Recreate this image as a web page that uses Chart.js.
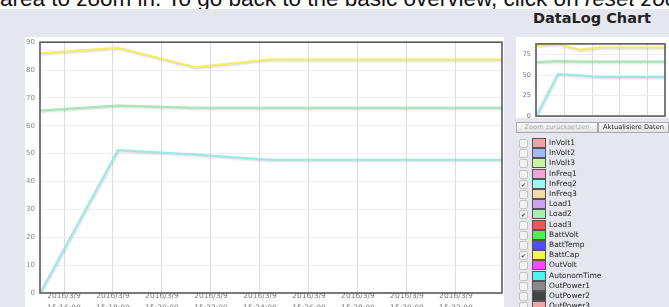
<!DOCTYPE html>
<html lang="de">
<head>
<meta charset="UTF-8">
<title>DataLog Chart</title>
<script src="https://cdn.jsdelivr.net/npm/chart.js"></script>
<style>
    body { margin: 0; width: 669px; height: 307px; overflow: hidden; background: #e6e6ee; position: relative; font-family: "DejaVu Sans", sans-serif; }
    #intro { position: absolute; left: 0; top: 0; width: 669px; height: 9px; background: #fff; overflow: hidden; }
    #intro span { position: absolute; left: 0; top: -12px; font: 22.5px/22.5px "Liberation Sans", Arial, sans-serif; white-space: nowrap; color: #111; }
    .panel { position: absolute; background: #fff; }
    canvas { position: absolute; }
    #title { position: absolute; left: 510px; width: 164px; top: 10px; text-align: center; font: bold 14.5px "DejaVu Sans", sans-serif; color: #222; }
    .btn { position: absolute; top: 122px; height: 9px; font-size: 6.6px; line-height: 9px; text-align: center; border: 1px solid #aaa; background: linear-gradient(#fafafa, #e2e2e2); box-sizing: content-box; }
    .row { position: absolute; left: 519px; height: 10px; font-size: 7.5px; line-height: 10px; color: #222; }
    .chk { position: absolute; left: 0; top: 1px; width: 7px; height: 7px; border: 1px solid #c4c4c4; border-radius: 2px; background: #f2f2f2; font-size: 6px; line-height: 7px; text-align: center; color: #444; }
    .sw { position: absolute; left: 13px; top: 0; width: 12px; height: 8px; border: 1px solid #555; }
    .lbl { position: absolute; left: 30px; top: 0; white-space: nowrap; }
</style>
</head>
<body>
<div id="intro"><span>area to zoom in. To go back to the basic overview, click on <i>reset zoom</i></span></div>

<div class="panel" style="left:25px; top:37px; width:479px; height:270px;"></div>
<canvas id="mainChart" width="479" height="290" style="left:25px; top:33px;"></canvas>

<div id="title">DataLog Chart</div>
<div class="panel" style="left:516px; top:37px; width:153px; height:81px;"></div>
<canvas id="miniChart" width="153" height="90" style="left:516px; top:35px;"></canvas>

<div class="btn" style="left:516px; width:80px; color:#aaa;">Zoom zurücksetzen</div>
<div class="btn" style="left:598px; width:69px; color:#222;">Aktualisiere Daten</div>

<div id="legend"></div>

<script>
    // minutes after 15:00 on 2016/3/9
    const times = [15.02, 18.2, 21.35, 24.4, 27.5, 30.6, 33.88];
    const battCap = [86, 88, 81, 83.8, 83.8, 83.8, 83.8];
    const load2 = [65.5, 67.3, 66.5, 66.5, 66.5, 66.5, 66.5];
    const inFreq2 = [0, 51.3, 49.7, 47.8, 47.8, 47.8, 47.8];

    const xTicks = [16, 18, 20, 22, 24, 26, 28, 30, 32];
    const yTicks = [0, 10, 20, 30, 40, 50, 60, 70, 80, 90];
    const miniXTicks = [19.25, 23.25, 27.25, 31.25];
    const miniYTicks = [0, 25, 50, 75];

    const legendNames = ['InVolt1', 'InVolt2', 'InVolt3', 'InFreq1', 'InFreq2', 'InFreq3', 'Load1', 'Load2', 'Load3',
        'BattVolt', 'BattTemp', 'BattCap', 'OutVolt', 'AutonomTime', 'OutPower1', 'OutPower2', 'OutPower3'];
    const legendColors = ['#f4a3a3', '#a3b8f4', '#cdf4a3', '#f4a3d6', '#a3f4f4', '#f4dba3', '#cfa3f4', '#a3f0b6', '#f45555',
        '#4ef04e', '#4f4ff4', '#f4f44e', '#f44ef4', '#4ef4f4', '#8a8a8a', '#444444', '#f4a3a3'];
    const legendChecked = ['InFreq2', 'Load2', 'BattCap'];

    // html legend with the fake checkboxes
    const legend = document.getElementById('legend');
    legendNames.forEach((name, i) => {
        const row = document.createElement('div');
        row.className = 'row';
        row.style.top = (138 + i * 10.2) + 'px';
        const on = legendChecked.includes(name);
        row.innerHTML = '<span class="chk">' + (on ? '✔' : '') + '</span>' +
            '<span class="sw" style="background:' + legendColors[i] + '"></span>' +
            '<span class="lbl">' + name + '</span>';
        legend.appendChild(row);
    });

    const pts = arr => arr.map((v, i) => ({ x: times[i], y: v }));
    const seriesDefs = [
        { label: 'InFreq2', data: pts(inFreq2), color: '#9ae8e8' },
        { label: 'Load2', data: pts(load2), color: '#a4e6b4' },
        { label: 'BattCap', data: pts(battCap), color: '#f2ee62' }
    ];

    const frame = {
        id: 'frame',
        beforeDatasetsDraw(chart) {
            chart.ctx.save();
            chart.ctx.shadowColor = 'rgba(0,0,0,0.18)';
            chart.ctx.shadowOffsetX = 1;
            chart.ctx.shadowOffsetY = 1;
            chart.ctx.shadowBlur = 2;
        },
        afterDatasetsDraw(chart) {
            chart.ctx.restore();
        },
        afterDraw(chart) {
            const a = chart.chartArea;
            const ctx = chart.ctx;
            ctx.save();
            ctx.strokeStyle = '#5a5a5a';
            ctx.lineWidth = 1.6;
            ctx.strokeRect(a.left, a.top, a.right - a.left, a.bottom - a.top);
            ctx.restore();
        }
    };

    function makeDatasets() {
        return seriesDefs.map(s => ({
            label: s.label,
            data: s.data,
            borderColor: s.color,
            borderWidth: 2,
            pointRadius: 0,
            tension: 0
        }));
    }

    const fmtTime = v => {
        const m = Math.round(v);
        return '15:' + String(m).padStart(2, '0') + ':00';
    };

    new Chart(document.getElementById('mainChart'), {
        type: 'line',
        data: { datasets: makeDatasets() },
        options: {
            responsive: false,
            animation: false,
            layout: { padding: { top: 5, right: 2, left: 0, bottom: 0 } },
            plugins: { legend: { display: false }, tooltip: { enabled: false } },
            scales: {
                x: {
                    type: 'linear',
                    min: times[0],
                    max: times[times.length - 1],
                    afterBuildTicks: s => { s.ticks = xTicks.map(v => ({ value: v })); },
                    afterFit: s => { s.height = 30; },
                    grid: { color: '#dcdcdc', drawTicks: false },
                    border: { display: false },
                    ticks: {
                        padding: -3,
                        color: '#777',
                        font: { family: 'DejaVu Sans', size: 7.5, lineHeight: 1.6 },
                        maxRotation: 0,
                        callback: v => ['2016/3/9', fmtTime(v)]
                    }
                },
                y: {
                    min: 0,
                    max: 90,
                    afterBuildTicks: s => { s.ticks = yTicks.map(v => ({ value: v })); },
                    afterFit: s => { s.width = 15; },
                    grid: { color: '#efefef', drawTicks: false },
                    border: { display: false },
                    ticks: { padding: 5, color: '#888', font: { family: 'DejaVu Sans', size: 7 } }
                }
            }
        },
        plugins: [frame]
    });

    new Chart(document.getElementById('miniChart'), {
        type: 'line',
        data: { datasets: makeDatasets() },
        options: {
            responsive: false,
            animation: false,
            layout: { padding: { top: 5, right: 4, left: 0, bottom: 0 } },
            plugins: { legend: { display: false }, tooltip: { enabled: false } },
            scales: {
                x: {
                    type: 'linear',
                    min: times[0],
                    max: times[times.length - 1],
                    afterBuildTicks: s => { s.ticks = miniXTicks.map(v => ({ value: v })); },
                    afterFit: s => { s.height = 0; },
                    grid: { color: '#dcdcdc', drawTicks: false },
                    border: { display: false },
                    ticks: { display: false }
                },
                y: {
                    min: 0,
                    max: 88,
                    afterBuildTicks: s => { s.ticks = miniYTicks.map(v => ({ value: v })); },
                    afterFit: s => { s.width = 20; },
                    grid: { color: '#efefef', drawTicks: false },
                    border: { display: false },
                    ticks: { padding: 5, color: '#777', font: { family: 'DejaVu Sans', size: 6.5 } }
                }
            }
        },
        plugins: [frame]
    });
</script>
</body>
</html>
